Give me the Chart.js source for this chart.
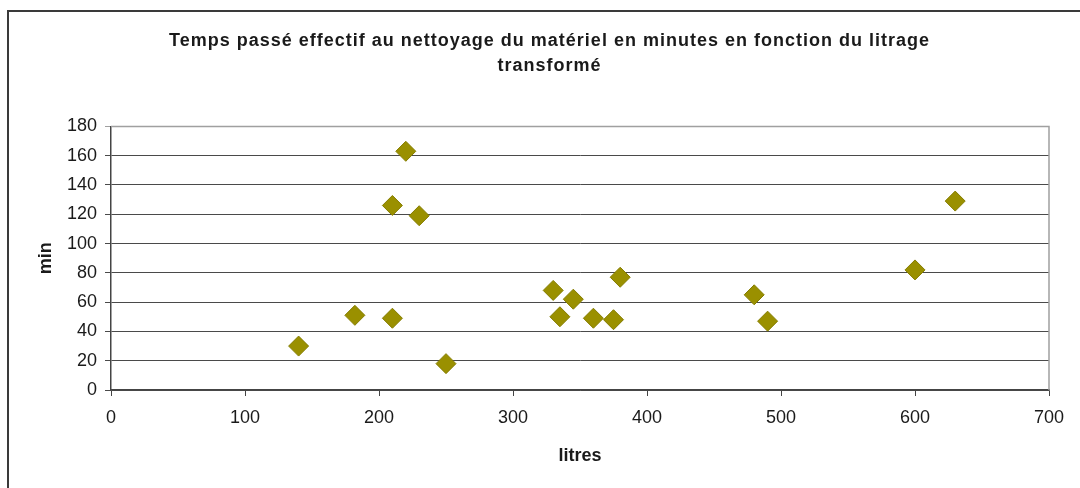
<!DOCTYPE html>
<html>
<head>
<meta charset="utf-8">
<script src="https://cdn.jsdelivr.net/npm/chart.js@4/dist/chart.umd.min.js"></script>
<style>
html,body{margin:0;padding:0;background:#fff;}
canvas{display:block;}
</style>
</head>
<body>
<canvas id="c" width="1080" height="488"></canvas>
<script>
const chartTitle = ["Temps passé effectif au nettoyage du matériel en minutes en fonction du litrage", "transformé"];
const xLabel = "litres";
const yLabel = "min";
const litres = [140, 182, 210, 210, 220, 230, 250, 330, 335, 345, 360, 375, 380, 480, 490, 600, 630];
const minutes = [30, 51, 49, 126, 163, 119, 18, 68, 50, 62, 49, 48, 77, 65, 47, 82, 129];
const xTicks = [0, 100, 200, 300, 400, 500, 600, 700];
const yTicks = [0, 20, 40, 60, 80, 100, 120, 140, 160, 180];

const points = litres.map((x, i) => ({x: x, y: minutes[i]}));
const FONT = "'Liberation Sans', Arial, sans-serif";

const framePlugin = {
  id: 'frame',
  beforeDraw(chart) {
    const ctx = chart.ctx;
    ctx.save();
    ctx.fillStyle = '#fff';
    ctx.fillRect(0, 0, chart.width, chart.height);
    ctx.strokeStyle = '#3a3a3a';
    ctx.lineWidth = 2;
    ctx.strokeRect(8, 11, 1200, 700);
    ctx.restore();
  },
  beforeDatasetsDraw(chart) {
    const a = chart.chartArea;
    const ctx = chart.ctx;
    ctx.save();
    ctx.strokeStyle = '#a0a0a0';
    ctx.lineWidth = 1.5;
    ctx.beginPath();
    ctx.moveTo(a.left, a.top);
    ctx.lineTo(a.right, a.top);
    ctx.lineTo(a.right, a.bottom);
    ctx.stroke();
    ctx.restore();
  }
};

const chart = new Chart(document.getElementById('c'), {
  type: 'scatter',
  data: {
    datasets: [{
      data: points,
      pointStyle: 'rectRot',
      pointRadius: 10,
      pointHoverRadius: 10,
      backgroundColor: '#9a9000',
      borderColor: '#857d00',
      borderWidth: 1
    }]
  },
  options: {
    responsive: false,
    animation: false,
    devicePixelRatio: 1,
    layout: { padding: { left: 0, right: 31, top: 0, bottom: 0 } },
    plugins: {
      legend: { display: false },
      tooltip: { enabled: false },
      title: {
        display: true,
        text: chartTitle,
        color: '#1a1a1a',
        font: { family: FONT, size: 18, weight: 'bold', lineHeight: 1.4 },
        padding: { top: 28, bottom: 48 }
      }
    },
    scales: {
      x: {
        type: 'linear',
        min: 0, max: 700,
        afterBuildTicks(s) { s.ticks = xTicks.map(v => ({value: v})); },
        afterFit(s) { s.height = 98; },
        ticks: { color: '#1a1a1a', padding: 11, font: { family: FONT, size: 18 }, maxRotation: 0 },
        grid: { drawOnChartArea: false, drawTicks: true, tickLength: 6, color: '#444', lineWidth: 1 },
        border: { color: '#444', width: 1.5 },
        title: { display: true, text: xLabel, color: '#1a1a1a', font: { family: FONT, size: 18, weight: 'bold' }, padding: { top: 0, bottom: 21 } }
      },
      y: {
        type: 'linear',
        min: 0, max: 180,
        afterBuildTicks(s) { s.ticks = yTicks.map(v => ({value: v})); },
        afterFit(s) { s.width = 111; },
        ticks: { color: '#1a1a1a', padding: 8, font: { family: FONT, size: 18 } },
        grid: {
          color: (c) => (c.tick && c.tick.value === 180) ? '#a0a0a0' : '#4a4a4a',
          lineWidth: 1, tickLength: 6, drawTicks: true
        },
        border: { color: '#444', width: 1.5 },
        title: { display: true, text: yLabel, color: '#1a1a1a', font: { family: FONT, size: 18, weight: 'bold' }, padding: { top: 35, bottom: 0 } }
      }
    }
  },
  plugins: [framePlugin]
});

// Title in the reference is letter-spaced and centred slightly right of the plot centre
if (chart.titleBlock) {
  const tb = chart.titleBlock;
  const origDraw = tb.draw.bind(tb);
  tb.draw = function () {
    const ctx = chart.ctx;
    ctx.save();
    if ('letterSpacing' in ctx) ctx.letterSpacing = '1px';
    ctx.translate(25, 0);
    origDraw();
    ctx.restore();
  };
  chart.draw();
}
</script>
</body>
</html>
